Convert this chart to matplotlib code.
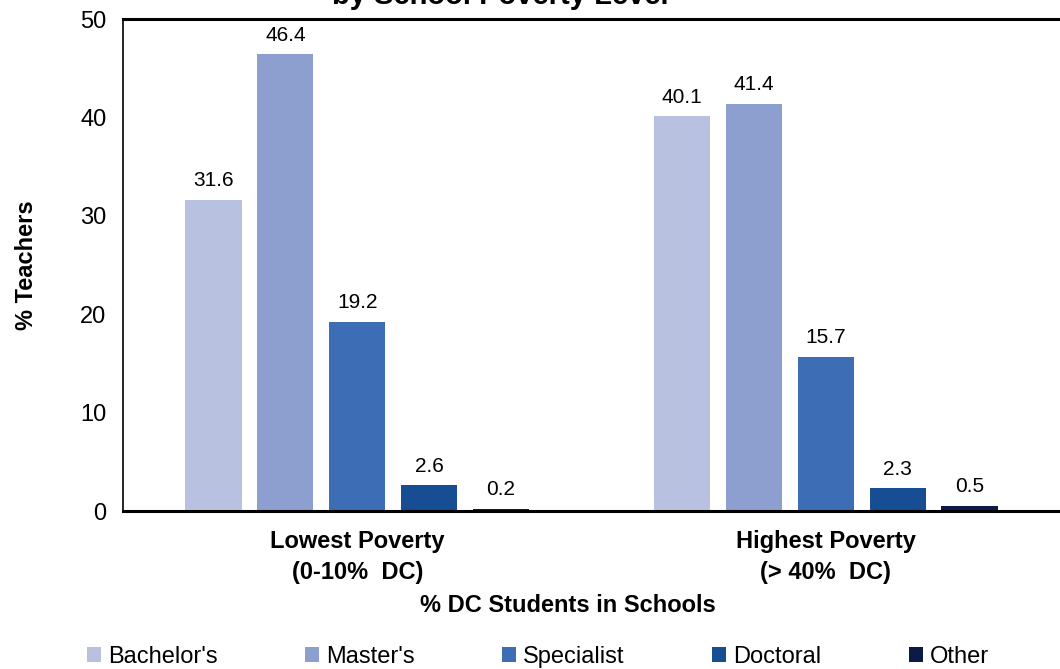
import matplotlib
matplotlib.use("Agg")
import matplotlib.pyplot as plt
import numpy as np

plt.rcParams['font.family'] = ['Liberation Sans', 'DejaVu Sans']

# teacher degree shares by school poverty level
groups = ["Lowest Poverty\n(0-10%  DC)", "Highest Poverty\n(> 40%  DC)"]
degrees = ["Bachelor's", "Master's", "Specialist", "Doctoral", "Other"]
bachelors = [31.6, 40.1]
masters = [46.4, 41.4]
specialist = [19.2, 15.7]
doctoral = [2.6, 2.3]
other = [0.2, 0.5]
colors = ["#B8C2E0", "#8C9FCF", "#3D6DB5", "#164D93", "#0B1B45"]

series = [bachelors, masters, specialist, doctoral, other]

fig = plt.figure(figsize=(10.6, 6.69), dpi=100)
ax = fig.add_axes([123/1060, 1 - 511/669, 1 - 123/1060, (511 - 19)/669])

x = np.arange(len(groups))
width = 0.12
step = 0.1535
bars = []
for i, (vals, name, c) in enumerate(zip(series, degrees, colors)):
    b = ax.bar(x + (i - 2) * step, vals, width, color=c, label=name)
    bars.append(b)
    for rect, v in zip(b, vals):
        ax.annotate(f"{v:.1f}", (rect.get_x() + rect.get_width() / 2, v),
                    xytext=(0, 7), textcoords="offset points",
                    ha="center", va="bottom", fontsize=15)

ax.set_xlim(-0.5, 1.5)
ax.set_ylim(0, 50)
ax.set_yticks([0, 10, 20, 30, 40, 50])
ax.set_xticks(x)
ax.set_xticklabels(groups, fontsize=17, fontweight="bold", linespacing=1.4)
ax.tick_params(axis="y", length=0, labelsize=17, pad=12)
ax.tick_params(axis="x", length=0, pad=14)

ax.spines["right"].set_visible(False)
ax.spines["top"].set_linewidth(2.2)
ax.spines["bottom"].set_linewidth(2.2)
ax.spines["left"].set_linewidth(1.2)

ax.set_ylabel("% Teachers", fontsize=17, fontweight="bold", labelpad=30)
fig.text(568/1060, 1 - 605/669, "% DC Students in Schools", fontsize=17,
         fontweight="bold", ha="center", va="center")

fig.text(500/1060, 1 - 4/669, "by School Poverty Level", fontsize=21,
         fontweight="bold", ha="center", va="baseline")

fig.legend(handles=bars, labels=degrees, loc="center", ncol=5,
           bbox_to_anchor=(538/1060, 1 - 657/669), frameon=False,
           fontsize=17, handlelength=0.6, handleheight=0.6,
           handletextpad=0.3, columnspacing=3.7, borderaxespad=0)

fig.savefig("out.png", dpi=100)
